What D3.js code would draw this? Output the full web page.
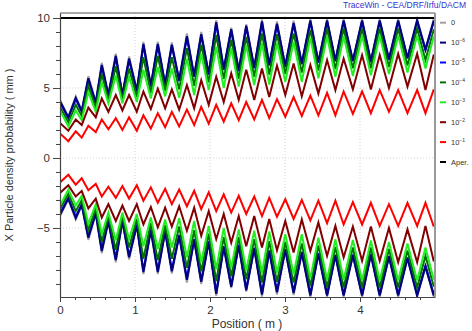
<!DOCTYPE html>
<html>
<head>
<meta charset="utf-8">
<script src="https://cdn.jsdelivr.net/npm/d3@7"></script>
<style>
  html, body { margin: 0; padding: 0; background: #fff; }
  svg { display: block; font-family: "Liberation Sans", Arial, sans-serif; }
</style>
</head>
<body>
<svg id="chart" width="472" height="331"></svg>
<script>
// ---- data (upper envelope half-widths in mm; the lower envelope is the mirror) ----
const positions = [0, 0.111, 0.21, 0.29, 0.378, 0.477, 0.557, 0.645, 0.744, 0.832, 0.921, 1.024, 1.112, 1.211,
  1.304, 1.402, 1.491, 1.589, 1.692, 1.789, 1.883, 1.983, 2.083, 2.183, 2.283, 2.383, 2.483, 2.59, 2.693, 2.79,
  2.893, 3.004, 3.115, 3.224, 3.338, 3.445, 3.561, 3.672, 3.782, 3.905, 4.028, 4.145, 4.263, 4.386, 4.509, 4.633,
  4.762, 4.873, 4.984];

const level0 = [4.15, 2.95, 4.4, 3.4, 5.85, 4.0, 6.8, 4.55, 7.45, 4.55, 7.25, 4.85, 8.3, 5.2, 8.3, 5.3, 8.25, 5.6,
  8.9, 5.9, 9.0, 6.05, 9.85, 6.4, 9.3, 6.3, 9.55, 6.5, 9.9, 6.7, 9.75, 6.6, 9.8, 6.8, 9.92, 6.9, 9.92, 7.0, 9.92, 7.0,
  9.92, 6.95, 9.92, 7.1, 9.92, 7.2, 9.92, 7.8, 9.92];
const level1e6 = [4.05, 2.9, 4.3, 3.35, 5.7, 3.95, 6.65, 4.5, 7.3, 4.5, 7.1, 4.8, 8.15, 5.15, 8.15, 5.25, 8.1, 5.55,
  8.7, 5.85, 8.85, 6.0, 9.7, 6.35, 9.2, 6.25, 9.45, 6.45, 9.75, 6.65, 9.6, 6.55, 9.65, 6.75, 9.82, 6.85, 9.82, 6.95,
  9.82, 6.95, 9.82, 6.9, 9.82, 7.05, 9.82, 7.15, 9.82, 7.75, 9.82];
const level1e5 = [3.95, 2.85, 4.2, 3.3, 5.6, 3.9, 6.55, 4.45, 7.2, 4.45, 7.0, 4.75, 8.05, 5.1, 8.05, 5.2, 8.0, 5.5,
  8.6, 5.8, 8.75, 5.95, 9.6, 6.3, 9.1, 6.2, 9.35, 6.4, 9.65, 6.6, 9.5, 6.5, 9.55, 6.7, 9.72, 6.8, 9.75, 6.9,
  9.75, 6.9, 9.75, 6.85, 9.75, 7.0, 9.75, 7.1, 9.75, 7.7, 9.75];
const level1e4 = [3.65, 2.55, 3.8, 3.0, 5.15, 3.6, 6.0, 4.15, 6.55, 4.15, 6.4, 4.35, 7.2, 4.65, 7.3, 4.8, 7.2, 4.9,
  7.85, 5.15, 8.1, 5.4, 8.8, 5.65, 8.45, 5.65, 8.65, 5.8, 8.9, 5.95, 8.85, 6.0, 8.9, 6.1, 9.15, 6.25, 9.25, 6.35,
  9.25, 6.4, 9.25, 6.4, 9.25, 6.5, 9.25, 6.6, 9.25, 7.0, 9.2];
const level1e3 = [3.4, 2.25, 3.4, 2.7, 4.7, 3.3, 5.45, 3.9, 5.9, 3.9, 5.8, 4.0, 6.3, 4.25, 6.5, 4.4, 6.4, 4.3,
  7.1, 4.5, 7.45, 4.85, 7.95, 5.0, 7.85, 5.1, 8.05, 5.2, 8.2, 5.25, 8.2, 5.45, 8.3, 5.45, 8.6, 5.7, 8.7, 5.8,
  8.7, 5.85, 8.75, 5.9, 8.75, 6.0, 8.75, 6.1, 8.75, 6.4, 8.7];
const level1e2 = [2.5, 1.95, 2.75, 2.35, 3.6, 2.9, 4.25, 3.3, 4.5, 3.4, 4.5, 3.3, 4.75, 3.5, 4.95, 3.55, 4.9, 3.45,
  5.2, 3.55, 5.55, 3.8, 5.8, 4.0, 6.05, 4.15, 6.3, 4.15, 6.4, 4.35, 6.6, 4.5, 6.75, 4.4, 6.65, 4.6, 7.0, 4.85,
  7.1, 4.9, 7.35, 4.9, 7.35, 5.0, 7.45, 5.1, 7.45, 4.85, 7.4];
const level1e1 = [1.75, 1.2, 1.9, 1.45, 2.3, 1.85, 2.75, 2.05, 2.85, 2.0, 2.9, 1.95, 3.05, 2.1, 3.2, 2.2, 3.3, 2.25,
  3.45, 2.35, 3.65, 2.45, 3.8, 2.6, 3.9, 2.7, 4.0, 2.75, 4.15, 2.85, 4.2, 2.95, 4.35, 3.0, 4.45, 3.05, 4.65, 3.05,
  4.75, 3.15, 4.75, 3.2, 4.85, 3.3, 4.85, 3.2, 4.85, 3.2, 4.9];
const aperture = [10, 10];
const aperturePositions = [0, 5.0];

const legendLabels = ["0", "10|-6", "10|-5", "10|-4", "10|-3", "10|-2", "10|-1", "Aper."];
const seriesColors = ["#a0a0a0", "#000080", "#0000ff", "#007000", "#22ee22", "#800000", "#ff0000", "#000000"];
const drawOrder = [0, 2, 1, 3, 4, 5, 6];
const xTicks = [0, 1, 2, 3, 4];
const yTicks = [10, 5, 0, -5];
const title = "TraceWin - CEA/DRF/Irfu/DACM";
const xLabel = "Position ( m )";
const yLabel = "X Particle density probability ( mm )";

// ---- layout ----
const svg = d3.select("#chart");
const L = 60, R = 435, T = 13, B = 297;
const x = d3.scaleLinear().domain([0, 5.0]).range([L, R]);
const y = d3.scaleLinear().domain([-9.93, 10.357]).range([B, T]);

svg.append("defs").append("clipPath").attr("id", "clip")
  .append("rect").attr("x", L).attr("y", T).attr("width", R - L).attr("height", B - T);

// grid
const grid = svg.append("g");
grid.selectAll(".gx").data(xTicks.filter(d => d > 0)).join("line")
  .attr("x1", d => x(d)).attr("x2", d => x(d)).attr("y1", T).attr("y2", B)
  .attr("stroke", "#d4d4d4").attr("stroke-width", 1).attr("stroke-dasharray", "1,2");
grid.selectAll(".gy").data(yTicks.filter(d => d < 10)).join("line")
  .attr("x1", L).attr("x2", R).attr("y1", d => y(d)).attr("y2", d => y(d))
  .attr("stroke", "#d4d4d4").attr("stroke-width", 1).attr("stroke-dasharray", "1,2");

// series
const seriesData = [level0, level1e6, level1e5, level1e4, level1e3, level1e2, level1e1];
const plot = svg.append("g").attr("clip-path", "url(#clip)");
const line = d3.line().x(d => x(d[0])).y(d => y(d[1]));
drawOrder.forEach(i => {
  const vals = seriesData[i];
  const up = positions.map((p, j) => [p, vals[j]]);
  const dn = positions.map((p, j) => [p, -vals[j]]);
  [up, dn].forEach(pts => {
    plot.append("path").attr("d", line(pts)).attr("fill", "none")
      .attr("stroke", seriesColors[i]).attr("stroke-width", 2).attr("stroke-linejoin", "miter");
  });
});
// aperture
[1, -1].forEach(s => {
  plot.append("path").attr("d", line(aperturePositions.map((p, j) => [p, s * aperture[j]])))
    .attr("fill", "none").attr("stroke", "#000").attr("stroke-width", 2);
});

// frame
svg.append("line").attr("x1", L).attr("x2", R).attr("y1", T).attr("y2", T).attr("stroke", "#555").attr("stroke-width", 1);
svg.append("line").attr("x1", R).attr("x2", R).attr("y1", T).attr("y2", B).attr("stroke", "#999").attr("stroke-width", 2);

// axes
const minorY = d3.range(-9, 11, 1).filter(d => !yTicks.includes(d));
const minorX = d3.range(0.2, 5.0, 0.2).filter(d => Math.abs(d - Math.round(d)) > 1e-6);

svg.append("g").attr("transform", `translate(${L},0)`)
  .call(d3.axisLeft(y).tickValues(yTicks).tickFormat(d3.format("d")).tickSize(7).tickPadding(3).tickSizeOuter(0));
svg.append("g").attr("transform", `translate(${L},0)`)
  .call(d3.axisLeft(y).tickValues(minorY).tickSize(4).tickFormat("").tickSizeOuter(0))
  .select(".domain").remove();
svg.append("g").attr("transform", `translate(0,${B})`)
  .call(d3.axisBottom(x).tickValues(xTicks).tickFormat(d3.format("d")).tickSize(5).tickPadding(4).tickSizeOuter(0));
svg.append("g").attr("transform", `translate(0,${B})`)
  .call(d3.axisBottom(x).tickValues(minorX).tickSize(3).tickFormat("").tickSizeOuter(0))
  .select(".domain").remove();
svg.selectAll(".domain").attr("stroke", "#444").attr("stroke-width", 1.2);
svg.selectAll(".tick line").attr("stroke", "#444");
svg.selectAll(".tick text").attr("font-size", 11.5).attr("fill", "#333")
  .attr("font-family", "'Liberation Sans', Arial, sans-serif");

// labels
svg.append("text").attr("x", 247).attr("y", 328).attr("text-anchor", "middle")
  .attr("font-size", 12).attr("fill", "#333").text(xLabel);
svg.append("text").attr("transform", "translate(13,155) rotate(-90)").attr("text-anchor", "middle")
  .attr("font-size", 11).attr("fill", "#333").text(yLabel);
svg.append("text").attr("x", 466).attr("y", 8).attr("text-anchor", "end")
  .attr("font-size", 8.5).attr("fill", "#3333cc").text(title);

// legend
const lg = svg.append("g");
legendLabels.forEach((lab, i) => {
  const ly = 22.7 + i * 19.9;
  lg.append("line").attr("x1", 440).attr("x2", 446).attr("y1", ly).attr("y2", ly)
    .attr("stroke", seriesColors[i]).attr("stroke-width", 2);
  const t = lg.append("text").attr("x", 451).attr("y", ly + 2.5).attr("font-size", 7.5).attr("fill", "#333");
  if (lab.includes("|")) {
    const [base, ex] = lab.split("|");
    t.append("tspan").text(base);
    t.append("tspan").attr("dy", -3).attr("font-size", 5).text(ex.replace("-", "\u2212"));
  } else {
    t.text(lab);
  }
});
</script>
</body>
</html>
